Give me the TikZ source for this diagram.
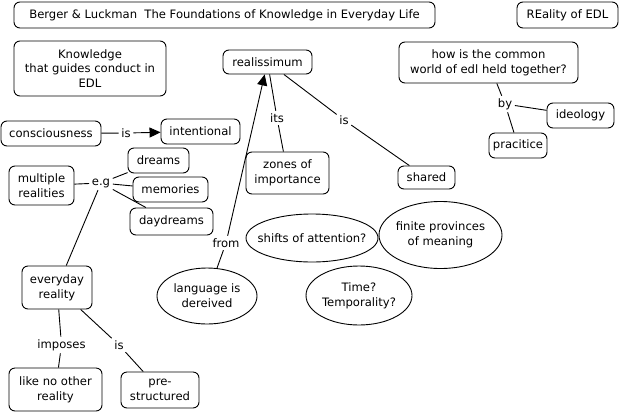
\documentclass[tikz,border=0pt]{standalone}
\usepackage{fontspec}
\setmainfont{DejaVu Sans}
\usetikzlibrary{shapes.geometric,arrows.meta}
\begin{document}
\begin{tikzpicture}[x=1pt,y=-1pt,
  every node/.style={font=\fontsize{11.6}{14.8}\selectfont},
  box/.style={draw,rounded corners=6pt,align=center,inner sep=0pt,line width=0.9pt},
  oval/.style={draw,ellipse,inner sep=0pt,line width=0.9pt},
  txt/.style={align=center,inner sep=0pt},
  lbl/.style={inner sep=2.5pt},
  conn/.style={line width=0.9pt},
  arr/.style={line width=0.9pt,-{Triangle[length=11pt,width=10pt]}}]
\useasboundingbox (0,0) rectangle (621,413);
% concept nodes
\node[box,minimum width=421,minimum height=26] (title) at (224.5,15) {Berger \& Luckman\ \ The Foundations of Knowledge in Everyday Life};
\node[box,minimum width=101,minimum height=26] (reality) at (567.5,15) {REality of EDL};
\node[box,minimum width=152,minimum height=55] (know) at (90,68.5) {Knowledge\\that guides conduct in\\EDL};
\node[box,minimum width=89,minimum height=24] (real) at (267.5,62) {realissimum};
\node[box,minimum width=179,minimum height=41] (how) at (488.5,62.5) {how is the common\\world of edl held together?};
\node[box,minimum width=67,minimum height=25] (ideo) at (580.5,115.5) {ideology};
\node[box,minimum width=58,minimum height=25] (prac) at (518,145.5) {pracitice};
\node[box,minimum width=100,minimum height=25] (cons) at (51,133.5) {consciousness};
\node[box,minimum width=79,minimum height=25] (inten) at (200.5,131.5) {intentional};
\node[box,minimum width=61,minimum height=25] (dreams) at (158.5,160.5) {dreams};
\node[box,minimum width=75,minimum height=25] (mem) at (170.5,189.5) {memories};
\node[box,minimum width=65,minimum height=39] (multi) at (41.5,185.5) {multiple\\realities};
\node[box,minimum width=83,minimum height=27] (day) at (171.5,221.5) {daydreams};
\node[box,minimum width=70,minimum height=43] (every) at (57,287.5) {everyday\\reality};
\node[box,minimum width=93,minimum height=43] (like) at (55.5,389.5) {like no other\\reality};
\node[box,minimum width=78,minimum height=36] (pre) at (160,390) {pre-\\structured};
\node[box,minimum width=83,minimum height=42] (zones) at (287.5,173) {zones of\\importance};
\node[box,minimum width=57,minimum height=23] (shared) at (426.5,177.5) {shared};
\node[oval,minimum width=100,minimum height=56] (lang) at (207,296) {};
\node[txt] (lang-t) at (lang) {language is\\dereived};
\node[oval,minimum width=132,minimum height=48] (shifts) at (312,238) {};
\node[txt] (shifts-t) at (shifts) {shifts of attention?};
\node[oval,minimum width=123,minimum height=67] (finite) at (440.5,235) {};
\node[txt] (finite-t) at (finite) {finite provinces\\of meaning};
\node[oval,minimum width=106,minimum height=59] (time) at (359,295.5) {};
\node[txt] (time-t) at (time) {Time?\\Temporality?};
% linking phrases
\node[lbl] (l-is1) at (126,133) {is};
\node[lbl] (l-eg) at (101,183) {e.g};
\node[lbl] (l-imp) at (61.5,345) {imposes};
\node[lbl] (l-is2) at (119,345) {is};
\node[lbl] (l-from) at (226,243) {from};
\node[lbl] (l-its) at (277,118) {its};
\node[lbl] (l-is3) at (344,120) {is};
\node[lbl] (l-by) at (505,104) {by};
% connectors
\draw[conn] (cons) -- (l-is1);
\draw[arr] (l-is1) -- (inten);
\draw[conn] (multi) -- (l-eg);
\draw[conn] (l-eg) -- (dreams);
\draw[conn] (l-eg) -- (mem);
\draw[conn] (l-eg) -- (day);
\draw[conn] (l-eg) -- (every);
\draw[conn] (every) -- (l-imp);
\draw[conn] (l-imp) -- (like);
\draw[conn] (every) -- (l-is2);
\draw[conn] (l-is2) -- (pre);
\draw[conn] (lang) -- (l-from);
\draw[arr] (l-from) -- (real);
\draw[conn] (real) -- (l-its);
\draw[conn] (l-its) -- (zones);
\draw[conn] (real) -- (l-is3);
\draw[conn] (l-is3) -- (shared);
\draw[conn] (how) -- (l-by);
\draw[conn] (l-by) -- (ideo);
\draw[conn] (l-by) -- (prac);
\end{tikzpicture}
\end{document}
